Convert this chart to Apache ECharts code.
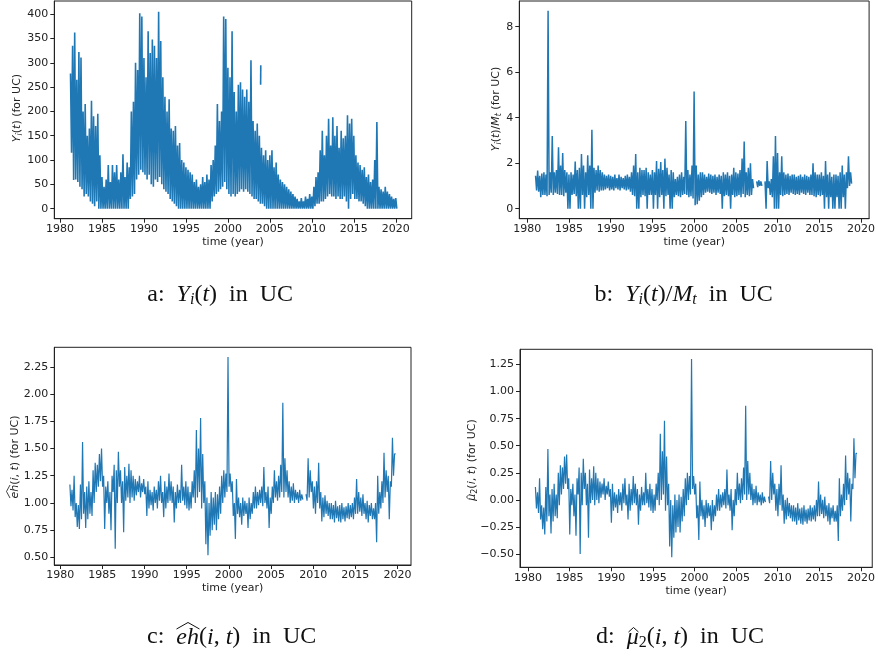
<!DOCTYPE html>
<html>
<head>
<meta charset="utf-8">
<script src="https://cdn.jsdelivr.net/npm/echarts@6/dist/echarts.min.js"></script>
<style>
  html, body { margin: 0; padding: 0; background: #fff; }
  #chart { width: 878px; height: 663px; }
</style>
</head>
<body>
<div id="chart"></div>
<script>
// quarterly samples: each quarter gives a high value, then a low value half a quarter later
const QUARTER = 0.25;

// a: Y_i(t), from 1981.25
const startA = 1981.25;
const hiA = [
  278, 335, 362,
  265, 322, 311, 200,  215, 150, 165, 222,  190, 170, 195, 110,  65, 45, 60, 90,
  55, 90, 75, 90,  60, 75, 112, 65,  95, 85, 200, 220,  300, 285, 402, 395,
  310, 270, 365, 320,  348, 335, 310, 405,  345, 270, 230, 200,  225, 165, 160, 170,
  130, 135, 100, 95,  85, 80, 75, 70,  55, 60, 45, 50,  65, 55, 70, 60,
  90, 100, 130, 215,  180, 200, 395, 390,  290, 270, 365, 240,  200, 255, 260, 245,
  230, 245, 220, 305,  180, 160, 175, 150,  125, 110, 120, 100,  110, 120, 85, 95,
  70, 60, 55, 50,  45, 40, 35, 30,  25, 20, 15, 22,  15, 25, 20, 30,
  25, 45, 65, 75,  120, 160, 110, 150,  185, 130, 188, 150,  170, 125, 160, 145,
  150, 192, 175, 185,  150, 110, 95, 90,  80, 85, 65, 70,  55, 60, 100, 178,
  45, 40, 35, 45,  35, 30, 25, 20,
  22
];
const loA = [
  115, 59, 60,
  55, 45, 40, 25,  30, 25, 15, 10,  5, 15, 0, 0,  0, 0, 0, 0,
  0, 0, 0, 0,  0, 0, 0, 0,  0, 20, 25, 30,  60, 70, 80, 75,
  70, 60, 70, 50,  45, 60, 55, 65,  50, 40, 35, 30,  20, 15, 10, 5,
  0, 0, 0, 0,  0, 0, 0, 0,  0, 0, 0, 0,  0, 0, 0, 0,
  15, 25, 30, 35,  40, 45, 55, 40,  30, 25, 30, 25,  30, 35, 40, 35,
  40, 35, 30, 25,  20, 20, 15, 10,  10, 5, 0, 0,  0, 0, 0, 0,
  0, 0, 0, 0,  0, 0, 0, 0,  0, 0, 0, 0,  0, 0, 0, 0,
  0, 5, 10, 10,  15, 15, 20, 25,  30, 25, 25, 20,  25, 20, 20, 25,
  15, 0, 20, 30,  20, 20, 15, 15,  10, 5, 0, 0,  0, 0, 0, 0,
  0, 0, 0, 0,  0, 0, 0, 0,
  0
];
const isolatedA = [[2003.9, 255], [2003.92, 295]];

// b: Y_i(t)/M_t, from 1981.0
const startB = 1981.0;
const hiB = [
  1.45, 1.68, 1.45, 1.55,  1.6, 1.5, 8.7, 1.6,  3.2, 1.6, 1.7, 2.7,  1.9, 2.45, 1.7, 1.6,
  1.5, 1.6, 1.5, 2.07,  1.7, 1.8, 2.4, 1.9,  1.6, 2.35, 1.9, 3.47,  1.8, 1.7, 1.9, 1.7,
  1.6, 1.5, 1.45, 1.5,  1.45, 1.4, 1.5, 1.35,  1.5, 1.4, 1.35, 1.45,  1.5, 1.4, 1.6, 1.9,
  2.4, 1.6, 1.8, 1.7,  1.7, 1.8, 1.6, 1.5,  1.7, 1.6, 2.1, 1.75,  2.05, 1.7, 2.2, 1.8,
  1.5, 1.7, 1.6, 1.3,  1.4, 1.5, 1.6, 1.4,  3.85, 1.7, 1.5, 1.9,  5.15, 1.9, 1.5, 1.6,
  1.6, 1.5, 1.4, 1.55,  1.5, 1.45, 1.5, 1.4,  1.5, 1.45, 1.6, 1.5,  1.6, 1.45, 1.5, 1.8,
  1.6, 1.55, 1.7, 2.2,  2.95, 1.6, 1.8, 2.0,  1.3, null, 1.2, 1.25,  1.2, null, 1.2, 2.1,
  1.2, 1.3, 2.3, 3.2,  2.45, 1.6, 2.3, 1.6,  1.5, 1.55, 1.45, 1.5,  1.5, 1.4, 1.45, 1.5,
  1.4, 1.5, 1.45, 1.4,  1.5, 2.0, 1.6, 1.5,  1.5, 1.6, 1.45, 2.1,  1.5, 1.6, 1.4, 1.5,
  1.5, 1.45, 1.6, 1.9,  1.5, 1.6, 2.3, 1.6
];
const loB = [
  0.8, 0.75, 0.5, 0.6,  0.6, 0.55, 0.6, 0.7,  0.6, 0.7, 0.65, 0.6,  0.6, 0.55, 0.7, 0.0,
  0.0, 0.6, 0.65, 0.55,  0.0, 0.0, 0.6, 0.0,  0.5, 0.6, 0.0, 0.0,  0.7, 0.8, 0.75, 0.8,
  0.8, 0.85, 0.9, 0.8,  0.85, 0.8, 0.9, 0.85,  0.8, 0.9, 0.85, 0.8,  0.85, 0.75, 0.6, 0.55,
  0.0, 0.0, 0.5, 0.6,  0.55, 0.0, 0.6, 0.6,  0.0, 0.6, 0.0, 0.5,  0.6, 0.0, 0.55, 0.6,
  0.0, 0.0, 0.5, 0.6,  0.55, 0.5, 0.6, 0.65,  0.6, 0.5, 0.55, 0.45,  0.15, 0.2, 0.35, 0.5,
  0.6, 0.7, 0.75, 0.7,  0.65, 0.7, 0.6, 0.7,  0.65, 0.0, 0.55, 0.6,  0.55, 0.0, 0.6, 0.5,
  0.55, 0.6, 0.5, 0.65,  0.5, 0.6, 0.55, 0.6,  0.9, null, 0.95, 1.0,  1.0, null, 0.0, 0.9,
  0.6, 0.5, 0.0, 0.0,  0.0, 0.6, 0.55, 0.6,  0.65, 0.6, 0.7, 0.65,  0.6, 0.65, 0.6, 0.7,
  0.65, 0.6, 0.7, 0.6,  0.6, 0.55, 0.5, 0.6,  0.55, 0.6, 0.0, 0.5,  0.0, 0.5, 0.0, 0.0,
  0.5, 0.0, 0.0, 0.5,  0.0, 0.9, 1.0, 1.1
];

// c: eh(i,t), from 1981.15
const startC = 1981.15;
const hiC = [
  1.17, 1.12, 1.25, 1.0,  0.98, 1.17, 1.56, 1.1,  1.15, 1.2, 1.1, 1.3,  1.37, 1.35, 1.45, 1.5,
  1.25, 1.15, 1.2, 1.1,  1.25, 1.35, 1.3, 1.47,  1.3, 1.2, 1.33, 1.25,  1.36, 1.3, 1.25, 1.22,
  1.2, 1.25, 1.18, 1.22,  1.15, 1.2, 1.12, 1.1,  1.15, 1.12, 1.2, 1.25,  1.1, 1.2, 1.15, 1.27,
  1.2, 1.15, 1.1, 1.17,  1.12, 1.35, 1.15, 1.2,  1.15, 1.1, 1.2, 1.3,  1.67, 1.5, 1.78, 1.45,
  1.2, 1.05, 1.0, 1.1,  1.05, 1.1, 1.08, 1.15,  1.25, 1.3, 1.27, 2.34,  1.27, 1.2, 1.0, 1.22,
  1.05, 1.0, 1.05, 1.02,  1.0, 1.05, 1.0, 1.1,  1.15, 1.1, 1.12, 1.15,  1.33, 1.1, 1.15, 1.05,
  1.15, 1.3, 1.2, 1.25,  1.35, 1.92, 1.41, 1.3,  1.2, 1.15, 1.18, 1.12,  1.1, 1.12, 1.08, null,
  1.08, 1.41, 1.3, 1.2,  1.15, 1.2, 1.37, 1.1,  1.05, 1.07, 1.02, 1.0,  1.0, 0.98, 1.02, 0.97,
  0.98, 1.0, 0.96, 0.97,  1.0, 0.98, 1.0, 1.05,  1.22, 1.1, 1.05, 1.08,  1.0, 1.02, 0.98, 1.0,
  0.95, 1.0, 1.25, 1.1,  1.2, 1.46, 1.3, 1.25,  1.2, 1.6, 1.45
];
const loC = [
  0.97, 0.93, 0.87, 0.78,  0.76, 0.85, 0.9, 0.77,  0.85, 0.9, 0.88, 1.0,  1.1, 1.15, 1.2, 1.15,
  0.76, 1.0, 0.9, 0.75,  1.1, 0.58, 1.0, 1.15,  1.0, 0.73, 1.02, 1.05,  1.0, 1.05, 1.02, 1.07,
  1.1, 1.05, 1.1, 1.08,  0.88, 0.95, 0.98, 0.93,  1.0, 0.95, 1.02, 1.0,  0.87, 0.95, 1.0, 1.02,
  1.0, 0.82, 0.95, 1.0,  1.0, 1.02, 0.98, 0.95,  0.93, 0.95, 1.05, 1.0,  1.05, 1.1, 0.95, 1.0,
  0.62, 0.52, 0.7, 0.75,  0.8, 0.75, 0.85, 0.9,  1.0, 1.05, 1.1, 1.15,  1.1, 0.88, 0.67, 0.9,
  0.87, 0.8, 0.88, 0.9,  0.77, 0.85, 0.9, 0.95,  0.95, 0.98, 1.0, 0.97,  1.0, 0.95, 0.77, 0.9,
  1.0, 1.05, 1.02, 1.05,  1.1, 1.05, 1.1, 1.05,  1.0, 1.02, 1.0, 1.03,  1.0, 1.02, 1.03, null,
  1.02, 1.05, 1.1, 0.95,  0.9, 1.0, 0.95, 0.83,  0.87, 0.9, 0.88, 0.85,  0.85, 0.82, 0.86, 0.83,
  0.82, 0.85, 0.83, 0.86,  0.85, 0.87, 0.85, 0.9,  0.9, 0.92, 0.88, 0.9,  0.85, 0.82, 0.88, 0.85,
  0.85, 0.64, 0.9, 0.95,  1.0, 1.05, 1.1, 0.85,  1.15, 1.25, 1.45
];

// d: mu_2(i,t), from 1980.9
const startD = 1980.9;
const hiD = [
  0.12, 0.07, 0.20, -0.05,  -0.07, 0.12, 0.47, 0.05,  0.10, 0.15, 0.05, 0.25,  0.32, 0.30, 0.40, 0.42,
  0.20, 0.10, 0.15, 0.05,  0.20, 0.30, 0.25, 0.38,  0.25, 0.15, 0.28, 0.20,  0.31, 0.25, 0.20, 0.17,
  0.15, 0.20, 0.13, 0.17,  0.10, 0.15, 0.07, 0.05,  0.10, 0.07, 0.15, 0.20,  0.05, 0.15, 0.10, 0.22,
  0.15, 0.10, 0.05, 0.12,  0.07, 0.25, 0.10, 0.15,  0.10, 0.05, 0.15, 0.25,  0.61, 0.45, 0.73, 0.40,
  0.15, 0.00, -0.05, 0.05,  0.00, 0.05, 0.03, 0.10,  0.20, 0.25, 0.22, 1.30,  0.22, 0.15, -0.05, 0.17,
  0.00, -0.05, 0.00, -0.03,  -0.05, 0.00, -0.05, 0.05,  0.10, 0.05, 0.07, 0.10,  0.28, 0.05, 0.10, 0.00,
  0.10, 0.25, 0.15, 0.20,  0.30, 0.87, 0.36, 0.25,  0.15, 0.10, 0.13, 0.07,  0.05, 0.07, 0.03, null,
  0.03, 0.36, 0.25, 0.15,  0.10, 0.15, 0.32, 0.05,  0.00, 0.02, -0.03, -0.05,  -0.05, -0.07, -0.03, -0.08,
  -0.07, -0.05, -0.09, -0.08,  -0.05, -0.07, -0.05, 0.00,  0.17, 0.05, 0.00, 0.03,  -0.05, -0.03, -0.07, -0.05,
  -0.10, -0.05, 0.20, 0.05,  0.15, 0.41, 0.25, 0.20,  0.15, 0.57, 0.43
];
const loD = [
  -0.08, -0.12, -0.18, -0.27,  -0.32, -0.20, -0.15, -0.31,  -0.20, -0.15, -0.17, -0.05,  0.05, 0.10, 0.15, 0.10,
  -0.32, -0.05, -0.15, -0.33,  0.05, -0.50, -0.05, 0.10,  -0.05, -0.35, -0.03, 0.00,  -0.05, 0.00, -0.03, 0.02,
  0.05, 0.00, 0.05, 0.03,  -0.21, -0.10, -0.07, -0.12,  -0.05, -0.10, -0.03, -0.05,  -0.18, -0.10, -0.05, -0.03,
  -0.05, -0.23, -0.10, -0.05,  -0.05, -0.03, -0.07, -0.10,  -0.12, -0.10, 0.00, -0.05,  0.00, 0.05, -0.10, -0.05,
  -0.43, -0.53, -0.35, -0.30,  -0.25, -0.30, -0.20, -0.15,  -0.05, 0.00, 0.05, 0.10,  0.05, -0.17, -0.37, -0.15,
  -0.18, -0.25, -0.17, -0.15,  -0.28, -0.20, -0.15, -0.10,  -0.10, -0.07, -0.05, -0.08,  -0.05, -0.10, -0.28, -0.15,
  -0.05, 0.00, -0.03, 0.00,  0.05, 0.00, 0.05, 0.00,  -0.05, -0.03, -0.05, -0.02,  -0.05, -0.03, -0.02, null,
  -0.03, 0.00, 0.05, -0.10,  -0.15, -0.05, -0.10, -0.22,  -0.18, -0.15, -0.17, -0.20,  -0.20, -0.23, -0.19, -0.22,
  -0.23, -0.20, -0.22, -0.19,  -0.20, -0.18, -0.20, -0.15,  -0.15, -0.13, -0.17, -0.15,  -0.20, -0.23, -0.17, -0.20,
  -0.20, -0.38, -0.15, -0.10,  -0.05, 0.00, 0.05, -0.20,  0.10, 0.20, 0.43
];

// tick labels
const yearTicks = [1980, 1985, 1990, 1995, 2000, 2005, 2010, 2015, 2020];
const ticksA = [0, 50, 100, 150, 200, 250, 300, 350, 400];
const ticksB = [0, 2, 4, 6, 8];
const ticksC = [0.5, 0.75, 1.0, 1.25, 1.5, 1.75, 2.0, 2.25];
const ticksD = [-0.5, -0.25, 0.0, 0.25, 0.5, 0.75, 1.0, 1.25];

const BLUE = '#1f77b4';
const INK = '#222';
const SANS = 'DejaVu Sans';
const SERIF = 'Liberation Serif';

// high / low alternating line, as matplotlib draws the dense weekly series
const zigzag = (start, hi, lo) => {
    const out = [];
    hi.forEach((h, k) => {
        const t = start + k * QUARTER;
        out.push([t, h == null ? '-' : h]);
        out.push([t + QUARTER / 2, lo[k] == null ? '-' : lo[k]]);
    });
    return out;
};

const xAxisOf = (gridIndex, min, max) => ({
    gridIndex, type: 'value', min, max,
    name: 'time (year)', nameLocation: 'middle', nameGap: 18,
    nameTextStyle: {fontFamily: SANS, fontSize: 11, color: INK},
    axisLine: {show: true, onZero: false, lineStyle: {color: INK, width: 1}},
    axisTick: {show: true, length: 4, customValues: yearTicks, lineStyle: {color: INK}},
    axisLabel: {customValues: yearTicks, formatter: v => String(v), fontFamily: SANS, fontSize: 11, color: INK, margin: 5},
    splitLine: {show: false}
});

const yAxisOf = (gridIndex, min, max, ticks, fmt) => ({
    gridIndex, type: 'value', min, max,
    axisLine: {show: true, onZero: false, lineStyle: {color: INK, width: 1}},
    axisTick: {show: true, length: 4, customValues: ticks, lineStyle: {color: INK}},
    axisLabel: {customValues: ticks, formatter: fmt, fontFamily: SANS, fontSize: 11, color: INK, margin: 6},
    splitLine: {show: false}
});

const lineOf = (i, data, width) => ({
    type: 'line', xAxisIndex: i, yAxisIndex: i, data,
    showSymbol: false, symbol: 'none', connectNulls: false,
    lineStyle: {color: BLUE, width: width}, itemStyle: {color: BLUE}
});

const gridOf = (left, top, width, height) => ({
    left, top, width, height, show: true, borderColor: INK, borderWidth: 1, backgroundColor: '#fff'
});

const labRich = {
    n: {fontFamily: SANS, fontSize: 11, lineHeight: 14, fill: INK},
    m: {fontFamily: SANS, fontSize: 11, lineHeight: 14, fontStyle: 'italic', fill: INK},
    s: {fontFamily: SANS, fontSize: 8, lineHeight: 8, fontStyle: 'italic', verticalAlign: 'bottom', fill: INK},
    r: {fontFamily: SANS, fontSize: 8, lineHeight: 8, verticalAlign: 'bottom', fill: INK}
};
const capRich = {
    n: {fontFamily: SERIF, fontSize: 24, lineHeight: 27, fill: '#111'},
    m: {fontFamily: SERIF, fontSize: 24, lineHeight: 27, fontStyle: 'italic', fill: '#111'},
    s: {fontFamily: SERIF, fontSize: 16, lineHeight: 14, fontStyle: 'italic', verticalAlign: 'bottom', fill: '#111'},
    r: {fontFamily: SERIF, fontSize: 16, lineHeight: 14, verticalAlign: 'bottom', fill: '#111'}
};

const hat = (points, width) => ({
    type: 'polyline', shape: {points}, style: {stroke: '#111', lineWidth: width, fill: null}
});

const yLabel = (x, y, text, extra) => ({
    type: 'group', x, y, rotation: Math.PI / 2,
    children: [
        {type: 'text', style: {text, rich: labRich, fontFamily: SANS, fontSize: 11, fill: INK, align: 'center', verticalAlign: 'middle'}}
    ].concat(extra || [])
});

const caption = (x, y, text) => ({
    type: 'text', x, y,
    style: {text, rich: capRich, fontFamily: SERIF, fontSize: 24, fill: '#111', align: 'left', verticalAlign: 'middle'}
});

const chart = echarts.init(document.getElementById('chart'), null, {renderer: 'canvas'});

chart.setOption({
    animation: false,
    backgroundColor: '#fff',
    grid: [
        gridOf(54.3, 1, 357.4, 217.7),
        gridOf(519.3, 1, 357.7, 217.7),
        gridOf(54.3, 347.3, 356.7, 217.7),
        gridOf(520, 349.3, 356.7, 218)
    ],
    xAxis: [
        xAxisOf(0, 1979.32, 2021.9),
        xAxisOf(1, 1979.05, 2020.97),
        xAxisOf(2, 1979.3, 2021.6),
        xAxisOf(3, 1979.05, 2021.35)
    ],
    yAxis: [
        yAxisOf(0, -20.6, 427, ticksA, v => String(v)),
        yAxisOf(1, -0.44, 9.13, ticksB, v => String(v)),
        yAxisOf(2, 0.43, 2.43, ticksC, v => v.toFixed(2)),
        yAxisOf(3, -0.622, 1.39, ticksD, v => (v < 0 ? '\u2212' + (-v).toFixed(2) : v.toFixed(2)))
    ],
    series: [
        lineOf(0, zigzag(startA, hiA, loA), 1.6),
        lineOf(0, isolatedA, 1.6),
        lineOf(1, zigzag(startB, hiB, loB), 1.5),
        lineOf(2, zigzag(startC, hiC, loC), 1.2),
        lineOf(3, zigzag(startD, hiD, loD), 1.2)
    ],
    graphic: {elements: [
        yLabel(17, 108, '{m|Y}{s|i}{n|(}{m|t}{n|) (for UC)}'),
        yLabel(496, 109, '{m|Y}{s|i}{n|(}{m|t}{n|)/}{m|M}{s|t}{n| (for UC)}'),
        yLabel(15, 457, '{m|eh}{n|(}{m|i}{n|, }{m|t}{n|) (for UC)}',
            [hat([[-41, -5], [-34.5, -8.5], [-28, -5]], 0.8)]),
        yLabel(472, 460, '{m|\u03bc}{r|2}{n|(}{m|i}{n|, }{m|t}{n|) (for UC)}',
            [hat([[-39.5, -3], [-37, -5.5], [-34.5, -3]], 0.8)]),

        caption(147.3, 294.6, '{n|a:  }{m|Y}{s|i}{n|(}{m|t}{n|)  in  UC}'),
        caption(594.6, 294.6, '{n|b:  }{m|Y}{s|i}{n|(}{m|t}{n|)/}{m|M}{s|t}{n|  in  UC}'),
        caption(147, 637.2, '{n|c:  }{m|eh}{n|(}{m|i}{n|, }{m|t}{n|)  in  UC}'),
        hat([[176.5, 629], [188, 622.5], [199.5, 629]], 1),
        caption(596, 637.2, '{n|d:  }{m|\u03bc}{r|2}{n|(}{m|i}{n|, }{m|t}{n|)  in  UC}'),
        hat([[628.5, 632], [633.5, 627.5], [638.5, 632]], 1)
    ]}
});
</script>
</body>
</html>
